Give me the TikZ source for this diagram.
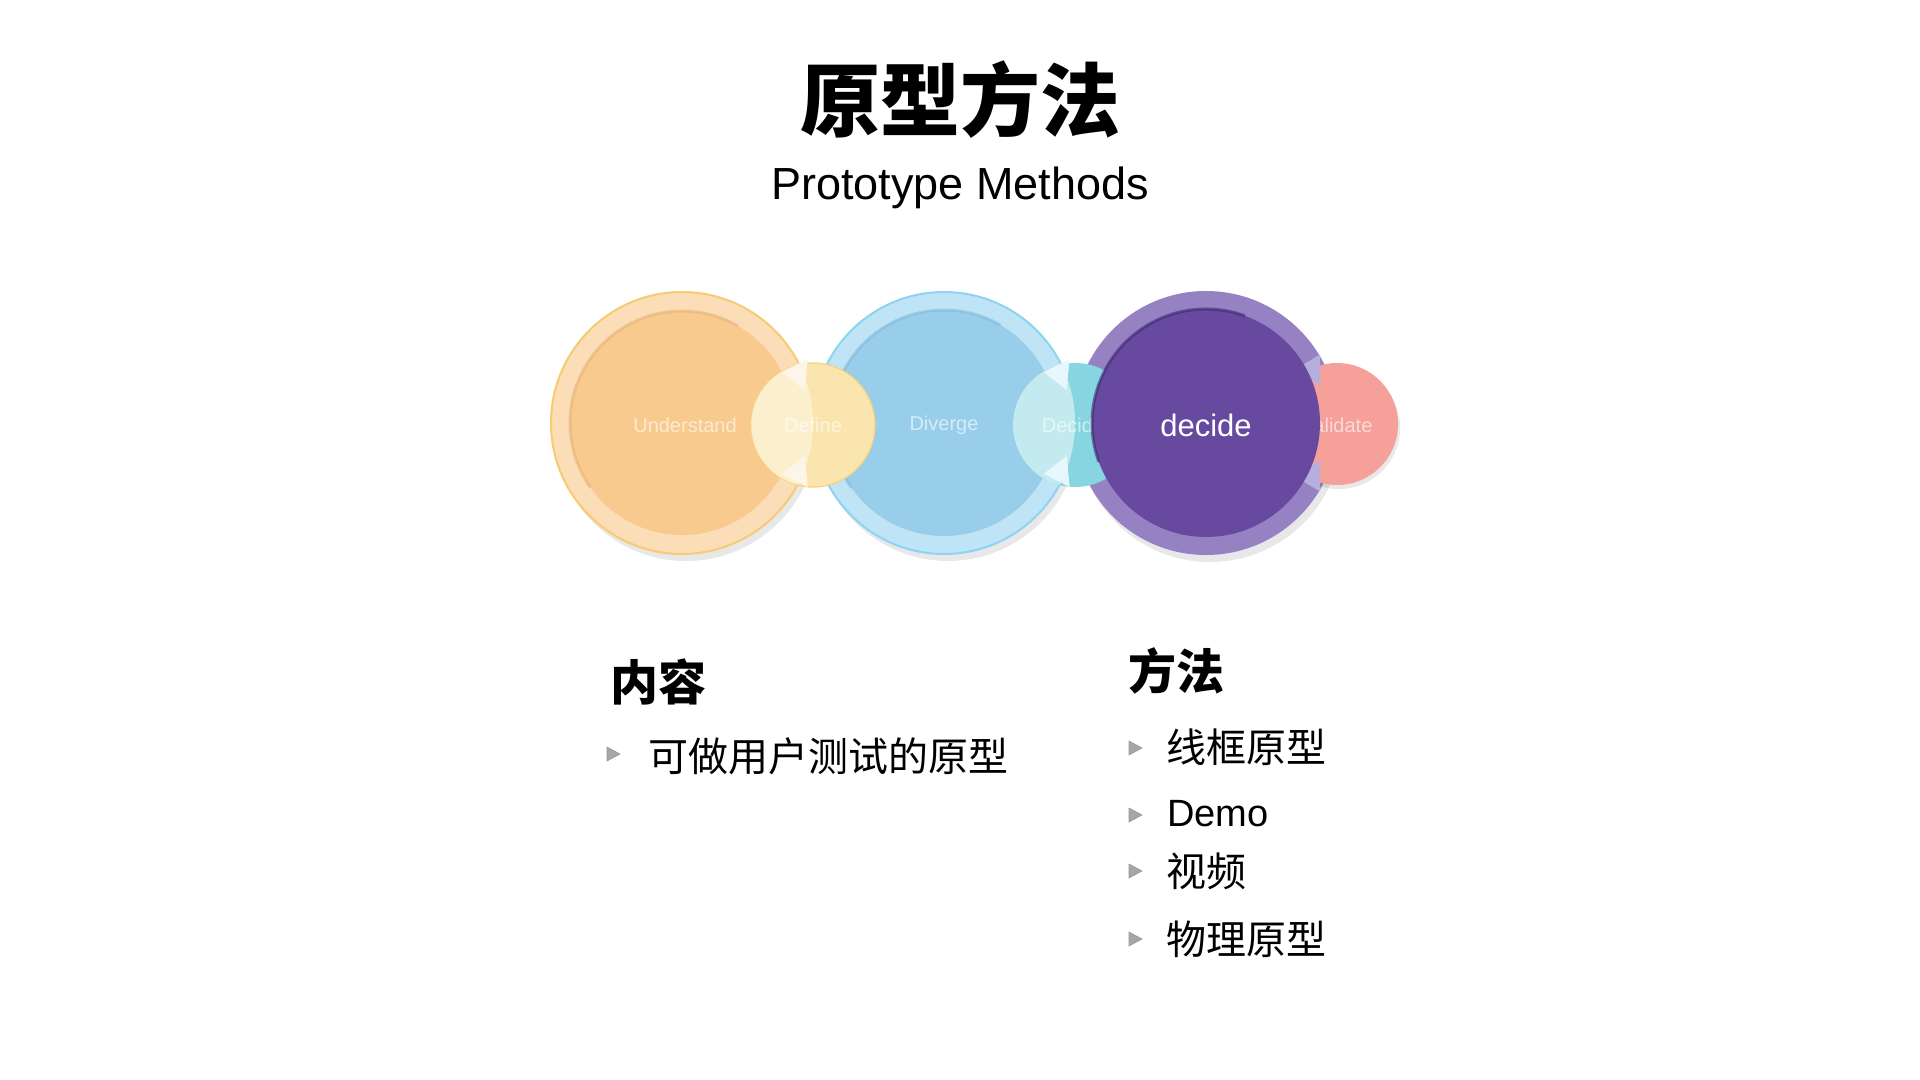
\documentclass[tikz,border=0pt]{standalone}
\usepackage{fontspec}
\setmainfont{Liberation Sans}
\newfontfamily\cjk{Noto Sans CJK SC}
\definecolor{orgRing}{HTML}{FBDDB8}
\definecolor{orgIn}{HTML}{F9CA8E}
\definecolor{orgEdge}{HTML}{F6CB72}
\definecolor{orgRim}{HTML}{E3AE72}
\definecolor{bluRing}{HTML}{BEE4F6}
\definecolor{bluIn}{HTML}{98CEEA}
\definecolor{bluEdge}{HTML}{8ED4F2}
\definecolor{bluRim}{HTML}{7FB5D3}
\definecolor{purRing}{HTML}{9681C3}
\definecolor{purIn}{HTML}{674AA0}
\definecolor{purRim}{HTML}{3A2870}
\definecolor{defFill}{HTML}{FBE5AE}
\definecolor{defEdge}{HTML}{F6D37A}
\definecolor{decFill}{HTML}{86D5E0}
\definecolor{valFill}{HTML}{F5A199}
\definecolor{defArrow}{HTML}{FEF6EC}
\definecolor{decArrow}{HTML}{EAF8FC}
\definecolor{valArrow}{HTML}{B6AEDD}
\definecolor{bulletGray}{HTML}{A6A6A6}
\begin{document}
\begin{tikzpicture}[x=0.5pt,y=-0.5pt,
  disk/.style={circle, inner sep=0pt, outer sep=0pt},
  shadowdisk/.style={fill=black, opacity=0.09},
  steplabel/.style={font=\fontsize{10}{12}\selectfont, text=white, text opacity=0.6, inner sep=0pt},
  heading/.style={font=\cjk\bfseries\fontsize{24}{28}\selectfont, anchor=west, inner sep=0pt},
  itemtext/.style={font=\cjk\fontsize{20}{24}\selectfont, anchor=west, inner sep=0pt},
  bulletmark/.style={fill=bulletGray, draw=gray!80, line width=0.3pt}
]
\fill[white] (0,0) rectangle (1920,1080);
\useasboundingbox (0,0) rectangle (1920,1080);

% titles
\node[font=\cjk\bfseries\fontsize{40}{48}\selectfont, inner sep=0pt] (title) at (960,100) {原型方法};
\node[font=\fontsize{22.5}{27}\selectfont, anchor=base, inner sep=0pt] (sub) at (960,200) {Prototype Methods};

% centres
\coordinate (cU) at (682,423);
\coordinate (cB) at (944,423);
\coordinate (cP) at (1206,423);

% shadows
\fill[shadowdisk] (686,430) circle[radius=65.5pt];
\fill[shadowdisk] (948,430) circle[radius=65.5pt];
\fill[shadowdisk] (1210,430) circle[radius=66pt];

% big circles
\node[disk, minimum size=131pt, fill=orgRing, draw=orgEdge, line width=1pt] (und) at (cU) {};
\node[disk, minimum size=112pt, fill=orgIn] (undin) at (cU) {};
\draw[orgRim, opacity=0.5, line width=1.5pt] ([shift={(-60:112)}]cU) arc[start angle=60, end angle=215, radius=56pt];

\node[disk, minimum size=131pt, fill=bluRing, draw=bluEdge, line width=1pt] (div) at (cB) {};
\node[disk, minimum size=113pt, fill=bluIn] (divin) at (cB) {};
\draw[bluRim, opacity=0.5, line width=1.5pt] ([shift={(-60:113)}]cB) arc[start angle=60, end angle=215, radius=56.5pt];

\node[disk, minimum size=132pt, fill=purRing] (dec) at (cP) {};

% Define
\node[disk, minimum size=62pt, fill=defFill, draw=defEdge, line width=0.6pt] (def) at (813,425) {};
\begin{scope}
  \clip (cU) circle[radius=65.5pt];
  \fill[white, opacity=0.4] (def.center) circle[radius=31pt];
\end{scope}
\fill[defArrow, opacity=0.95] ([shift={(-27:112)}]cU) -- ([shift={(-27:141)}]cU) -- ([shift={(-15:127)}]cU) -- cycle;
\fill[defArrow, opacity=0.95] ([shift={(27:112)}]cU) -- ([shift={(27:141)}]cU) -- ([shift={(15:127)}]cU) -- cycle;

% Decide (small)
\node[disk, minimum size=62pt, fill=decFill] (dcs) at (1075,425) {};
\begin{scope}
  \clip (cB) circle[radius=65.5pt];
  \fill[white, opacity=0.5] (dcs.center) circle[radius=31pt];
\end{scope}
\fill[decArrow, opacity=0.95] ([shift={(-27:112)}]cB) -- ([shift={(-27:141)}]cB) -- ([shift={(-15:127)}]cB) -- cycle;
\fill[decArrow, opacity=0.95] ([shift={(27:112)}]cB) -- ([shift={(27:141)}]cB) -- ([shift={(15:127)}]cB) -- cycle;

% Validate
\fill[shadowdisk] (1339,428) circle[radius=30.5pt];
\node[disk, minimum size=61pt, fill=valFill] (val) at (1337,424) {};
\fill[valArrow] ([shift={(-31:104)}]cP) -- ([shift={(-31:133)}]cP) -- ([shift={(-18:120)}]cP) -- cycle;
\fill[valArrow] ([shift={(31:104)}]cP) -- ([shift={(31:133)}]cP) -- ([shift={(18:120)}]cP) -- cycle;

% labels under the purple disk
\node[steplabel] (lU) at (685,425) {Understand};
\node[steplabel] (lD) at (813,425) {Define};
\node[steplabel] (lV) at (944,425) {Diverge};
\node[steplabel] (lC) at (1073,425) {Decide};
\node[steplabel] (lA) at (1337,425) {Validate};

% purple inner
\node[disk, minimum size=114pt, fill=purIn] (decin) at (cP) {};
\draw[purRim, opacity=0.6, line width=1.5pt] ([shift={(-70:114)}]cP) arc[start angle=70, end angle=200, radius=57pt];
\node[font=\fontsize{15.5}{18}\selectfont, text=white, inner sep=0pt] (lP) at (1206,425) {decide};

% left column
\node[heading] (h1) at (610,682) {内容};
\coordinate (b1) at (613,754);
\fill[bulletmark] (b1) ++(-6,-7) -- ++(13,7) -- ++(-13,7) -- cycle;
\node[itemtext] (t1) at (648,756) {可做用户测试的原型};

% right column
\node[heading] (h2) at (1128,671) {方法};
\coordinate (b2) at (1135,748);
\coordinate (b3) at (1135,815);
\coordinate (b4) at (1135,871);
\coordinate (b5) at (1135,939);
\foreach \b in {b2,b3,b4,b5}{
  \fill[bulletmark] (\b) ++(-6,-7) -- ++(13,7) -- ++(-13,7) -- cycle;
}
\node[itemtext] (t2) at (1166,747) {线框原型};
\node[font=\fontsize{19}{23}\selectfont, anchor=west, inner sep=0pt] (t3) at (1167,814) {Demo};
\node[itemtext] (t4) at (1166,871) {视频};
\node[itemtext] (t5) at (1166,939) {物理原型};
\end{tikzpicture}
\end{document}
